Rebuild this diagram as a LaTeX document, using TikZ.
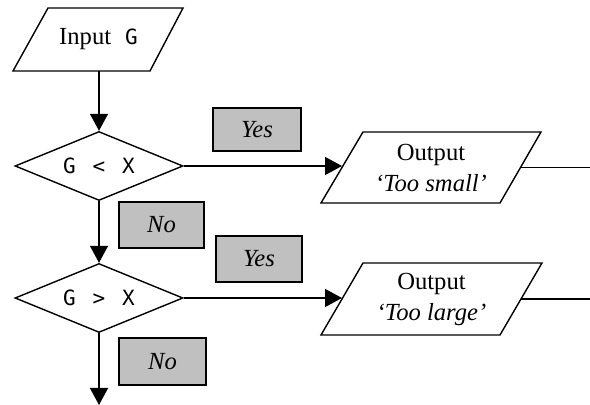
\documentclass[tikz,border=0pt]{standalone}
\usepackage{fontspec}
\setmainfont{Liberation Serif}
\newfontfamily\codefont{DejaVu Sans Mono}
\usetikzlibrary{shapes.geometric,arrows.meta}
\definecolor{labelgray}{RGB}{192,192,192}
\newcommand{\codetext}{\codefont\fontsize{10.5}{13}\selectfont}
\tikzset{
  every node/.style={font=\fontsize{12.3}{15.5}\selectfont},
  iotext/.style={inner sep=0pt, align=center},
  ioshape/.style={draw, line width=0.7pt, line join=miter},
  decision/.style={diamond, draw, line width=0.7pt, aspect=2.43, minimum width=84pt, minimum height=34.5pt, inner sep=0pt,
    font=\codetext},
  answer/.style={draw, line width=0.6pt, fill=labelgray, inner sep=0pt, font=\fontsize{12.3}{15}\selectfont\itshape},
  flow/.style={line width=0.7pt, -{Triangle[length=8.5pt,width=9pt]}},
  plain/.style={line width=0.7pt}
}
\begin{document}
\begin{tikzpicture}[x=0.5pt,y=-0.5pt]
\useasboundingbox (0,0) rectangle (590,405);
% input/output parallelograms
\draw[ioshape] (48,8) -- (183,8) -- (150,71) -- (13,71) -- cycle;
\draw[ioshape] (363,132) -- (541,132) -- (500,203) -- (321,203) -- cycle;
\draw[ioshape] (363,263) -- (542,263) -- (500,335) -- (321,335) -- cycle;
\node[iotext] (in) at (98.5,39.5) {Input\hspace{7pt}{\codetext G}};
\node[iotext] (o1) at (431,167.5) {Output\\\textit{‘Too small’}};
\node[iotext] (o2) at (431.5,299) {Output\\\textit{‘Too large’}};
\coordinate (inS) at (99,71);
\coordinate (o1W) at (342,167.5);
\coordinate (o1E) at (520.5,167.5);
\coordinate (o2W) at (342,299);
\coordinate (o2E) at (521,299);
% decisions
\node[decision] (d1) at (99,166) {G\hspace{8.4pt}<\hspace{8.4pt}X};
\node[decision] (d2) at (99,298) {G\hspace{8.4pt}>\hspace{8.4pt}X};
% answer labels
\node[answer, minimum width=44pt, minimum height=21.5pt] (y1) at (257,129.5) {Yes};
\node[answer, minimum width=43pt, minimum height=23pt] (y2) at (259,259) {Yes};
\node[answer, minimum width=42.5pt, minimum height=23pt] (n1) at (161.5,225) {No};
\node[answer, minimum width=43.5pt, minimum height=23.5pt] (n2) at (162.5,361.5) {No};
\coordinate (e1) at (590,167.5);
\coordinate (e2) at (590,299);
\coordinate (bot) at (99,405);
% connectors
\draw[flow] (inS) -- (d1.north);
\draw[flow] (d1.south) -- (d2.north);
\draw[flow] (d2.south) -- (bot);
\draw[flow] (d1.east) -- (o1W |- d1.east);
\draw[flow] (d2.east) -- (o2W |- d2.east);
\draw[plain] (o1E) -- (e1);
\draw[plain] (o2E) -- (e2);
\end{tikzpicture}
\end{document}
